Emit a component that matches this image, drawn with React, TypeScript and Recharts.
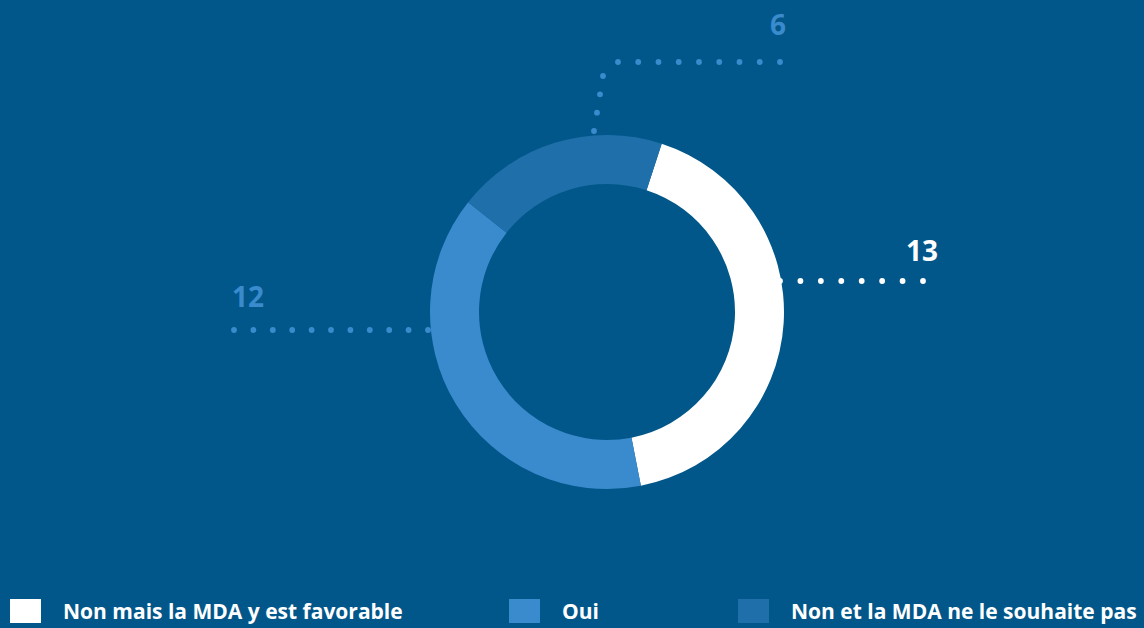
import React from 'react';
import { PieChart, Pie, Cell, Legend } from 'recharts';

const categories = ['Non mais la MDA y est favorable', 'Oui', 'Non et la MDA ne le souhaite pas'];
const values = [13, 12, 6];

const colors = ['#ffffff', '#3a8bcd', '#1f70aa'];
const labelColors = ['#ffffff', '#3a8bcd', '#3a8bcd'];
const BG = '#02578a';
const FONT = "'Open Sans', Lato, sans-serif";

// leader line layout, relative to the pie center
const leaderPaths: number[][][] = [
  [[173, -31], [316, -31]],
  [[-179, 18], [-373, 18]],
  [[-13, -181], [-4, -236], [11, -250], [173, -250]],
];
const labelOffsets = [
  { dx: 331, dy: -51, anchor: 'end' },
  { dx: -375, dy: -5, anchor: 'start' },
  { dx: 179, dy: -277, anchor: 'end' },
];
const legendLefts = [10, 509, 738];
const DOT_GAP = 20;

const data = categories.map((name, i) => ({ name, value: values[i] }));

const dotsAlong = (pts: number[][]) => {
  const out: number[][] = [pts[0]];
  for (let s = 0; s < pts.length - 1; s++) {
    const [x0, y0] = pts[s];
    const [x1, y1] = pts[s + 1];
    const len = Math.hypot(x1 - x0, y1 - y0);
    const n = Math.max(1, Math.round(len / DOT_GAP));
    for (let k = 1; k <= n; k++) {
      out.push([x0 + ((x1 - x0) * k) / n, y0 + ((y1 - y0) * k) / n]);
    }
  }
  return out;
};

const renderLabel = (props: any) => {
  const { cx, cy, index, value } = props;
  const off = labelOffsets[index];
  const dots = dotsAlong(leaderPaths[index]);
  return (
    <g key={`lbl-${index}`}>
      {dots.map(([x, y], k) => (
        <circle key={k} cx={cx + x} cy={cy + y} r={2.9} fill={labelColors[index]} />
      ))}
      <text
        x={cx + off.dx}
        y={cy + off.dy}
        textAnchor={off.anchor as any}
        fill={labelColors[index]}
        fontFamily={FONT}
        fontWeight={700}
        fontSize={28}
      >
        {value}
      </text>
    </g>
  );
};

const renderLegend = () => (
  <div style={{ position: 'relative', width: 1144, height: 30 }}>
    {data.map((d, i) => (
      <div
        key={d.name}
        style={{
          position: 'absolute',
          left: legendLefts[i],
          top: 0,
          display: 'flex',
          alignItems: 'center',
          height: 24,
        }}
      >
        <div style={{ width: 31, height: 24, background: colors[i], marginRight: 22, flexShrink: 0 }} />
        <span
          style={{
            color: '#ffffff',
            fontFamily: FONT,
            fontWeight: 700,
            fontSize: 21,
            whiteSpace: 'nowrap',
            lineHeight: '24px',
          }}
        >
          {d.name}
        </span>
      </div>
    ))}
  </div>
);

export default function App() {
  return (
    <div style={{ position: 'absolute', left: 0, top: 0, width: 1144, height: 628, background: BG, overflow: 'hidden' }}>
      <PieChart width={1144} height={628} margin={{ top: 0, right: 0, bottom: 0, left: 0 }}>
        <Pie
          data={data}
          dataKey="value"
          nameKey="name"
          cx={607}
          cy={312}
          innerRadius={128}
          outerRadius={177}
          startAngle={72}
          endAngle={-288}
          stroke="none"
          isAnimationActive={false}
          label={renderLabel}
          labelLine={false}
        >
          {data.map((d, i) => (
            <Cell key={d.name} fill={colors[i]} />
          ))}
        </Pie>
        <Legend
          content={renderLegend}
          wrapperStyle={{ position: 'absolute', left: 0, top: 599, width: 1144, height: 30, margin: 0 }}
        />
      </PieChart>
    </div>
  );
}
